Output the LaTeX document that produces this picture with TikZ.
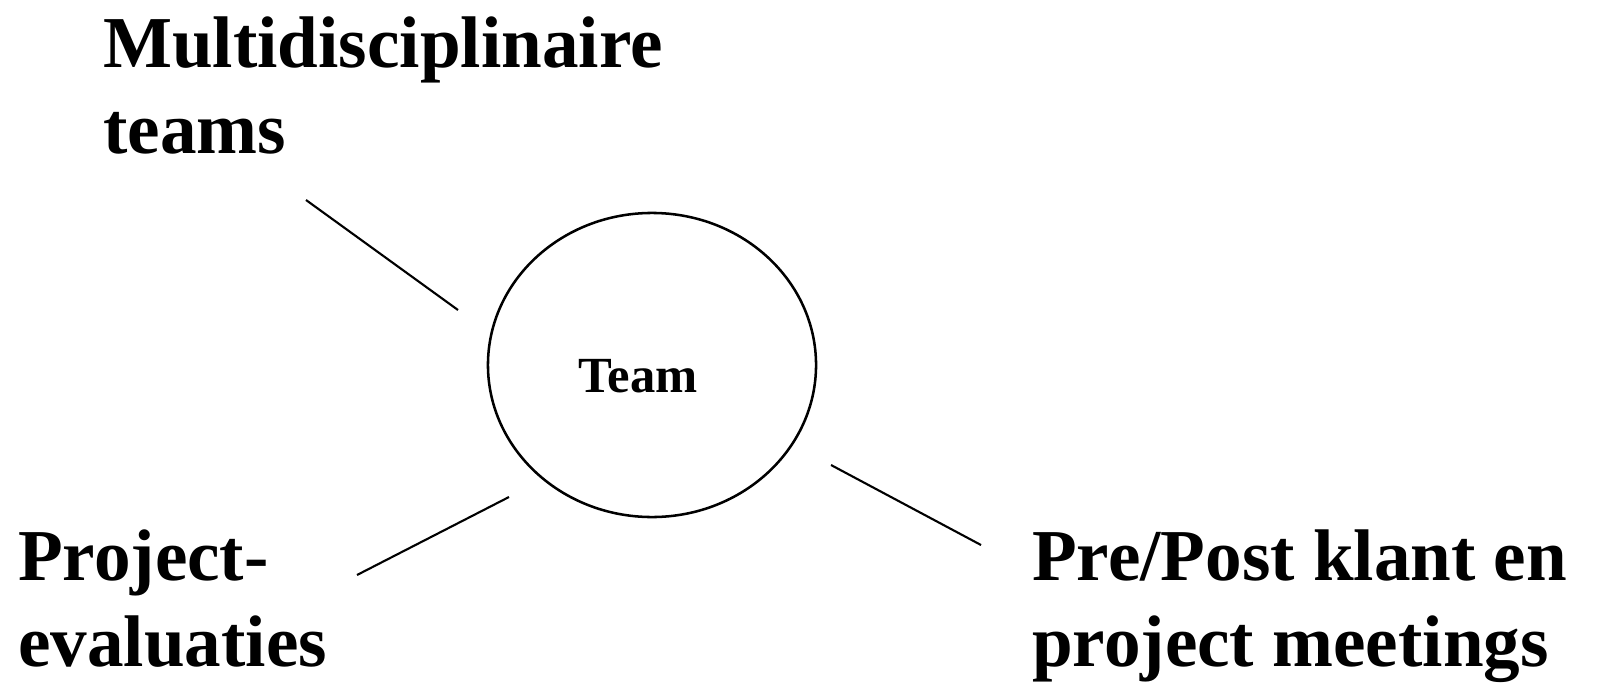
\documentclass[tikz,border=0pt]{standalone}
\usepackage{fontspec}
\setmainfont{Liberation Serif}
\usepackage{tikz}
\usetikzlibrary{calc,positioning,shapes.geometric}
\tikzset{
    cirkel/.style={
           ellipse,
           draw=black, line width=1.8pt,
           minimum width=8.2cm,
           minimum height=7.6cm,
           inner sep=0pt},
    tekst/.style={
           inner sep=0pt,
           align=left,
           font=\bfseries\fontsize{52}{61.2}\selectfont},
    lijn/.style={
           line width=1.5pt}
}
\begin{document}
\begin{tikzpicture}[x=0.025cm, y=-0.025cm]
        \useasboundingbox (0,0) rectangle (1608,683);
        \node[cirkel] (team) at (652,365) {};
        \node[inner sep=0pt, anchor=base, font=\bfseries\fontsize{36}{40}\selectfont] (teamlabel) at (638,392) {Team};
        \node[tekst, anchor=base west] (multi) at (103,67) {Multidisciplinaire};
        \node[tekst, anchor=base west] (multi2) at (103,153) {teams};
        \node[tekst, anchor=base west] (proj) at (18,580) {Project-};
        \node[tekst, anchor=base west] (proj2) at (18,666) {evaluaties};
        \node[tekst, anchor=base west] (pre) at (1032,580) {Pre/Post klant en};
        \node[tekst, anchor=base west] (pre2) at (1032,666) {project meetings};

        \coordinate (m1) at (306,200);
        \coordinate (m2) at (458,310);
        \coordinate (p1) at (509,497);
        \coordinate (p2) at (357,575);
        \coordinate (k1) at (831,465);
        \coordinate (k2) at (981,545);

        \draw[lijn] (m1) -- (m2);
        \draw[lijn] (p1) -- (p2);
        \draw[lijn] (k1) -- (k2);

    \end{tikzpicture}
\end{document}
